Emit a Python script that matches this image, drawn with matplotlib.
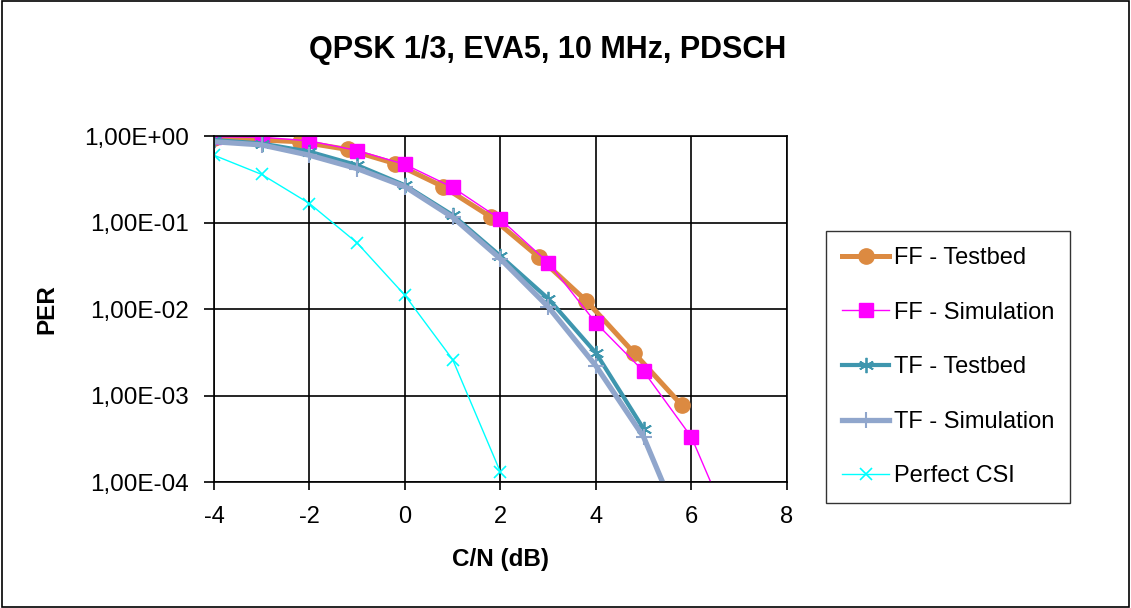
import numpy as np
import matplotlib.pyplot as plt
from matplotlib.ticker import FixedLocator, FuncFormatter, NullLocator

plt.rcParams['font.family'] = ['Liberation Sans', 'DejaVu Sans']

# FF - Testbed
ff_tb_x = [-4, -2.2, -1.2, -0.2, 0.8, 1.8, 2.8, 3.8, 4.8, 5.8]
ff_tb_y = [0.95, 0.86, 0.70, 0.48, 0.26, 0.116, 0.040, 0.0124, 0.0031, 0.00077]
# FF - Simulation
ff_sim_x = [-4, -3, -2, -1, 0, 1, 2, 3, 4, 5, 6, 7]
ff_sim_y = [0.98, 0.97, 0.88, 0.68, 0.47, 0.255, 0.109, 0.0345, 0.0069, 0.0019, 0.00033, 0.000017]
# TF - Testbed
tf_tb_x = [-4, -3, -2, -1, 0, 1, 2, 3, 4, 5]
tf_tb_y = [0.90, 0.82, 0.66, 0.46, 0.27, 0.122, 0.041, 0.0132, 0.0031, 0.00041]
# TF - Simulation
tf_sim_x = [-4, -3, -2, -1, 0, 1, 2, 3, 4, 5, 6]
tf_sim_y = [0.86, 0.79, 0.60, 0.42, 0.26, 0.115, 0.038, 0.0106, 0.0022, 0.00033, 0.000016]
# Perfect CSI
csi_x = [-4, -3, -2, -1, 0, 1, 2]
csi_y = [0.60, 0.36, 0.166, 0.058, 0.0144, 0.0026, 0.00013]

fig = plt.figure(figsize=(11.31, 6.08), dpi=100)
ax = fig.add_axes([0.1892, 0.2072, 0.5066, 0.569])

ax.plot(ff_tb_x, ff_tb_y, color='#DC8A41', lw=3.6, marker='o', ms=11, label='FF - Testbed')
ax.plot(ff_sim_x, ff_sim_y, color='#FF00FF', lw=1.0, marker='s', ms=9.5, label='FF - Simulation')
ax.plot(tf_tb_x, tf_tb_y, color='#3E96AE', lw=3.0, marker=(6, 2, 0), ms=11, mew=1.3,
        label='TF - Testbed')
ax.plot(tf_sim_x, tf_sim_y, color='#90A6CC', lw=3.8, marker='+', ms=11, mew=1.5,
        label='TF - Simulation')
ax.plot(csi_x, csi_y, color='#00FFFF', lw=1.0, marker='x', ms=8, mew=1.2, label='Perfect CSI')

ax.set_yscale('log')
ax.set_xlim(-4, 8)
ax.set_ylim(1e-4, 1)
ax.xaxis.set_major_locator(FixedLocator([-4, -2, 0, 2, 4, 6, 8]))
ax.xaxis.set_major_formatter(FuncFormatter(lambda v, pos: '%d' % v))
ax.yaxis.set_major_locator(FixedLocator([1e-4, 1e-3, 1e-2, 1e-1, 1e0]))
ax.yaxis.set_minor_locator(NullLocator())


def sci_comma(v, pos):
    e = int(round(np.log10(v)))
    return '1,00E%s%02d' % ('+' if e >= 0 else '-', abs(e))


ax.yaxis.set_major_formatter(FuncFormatter(sci_comma))
ax.grid(True, color='black', lw=1.2)
for s in ax.spines.values():
    s.set_color('black')
    s.set_linewidth(1.2)
ax.tick_params(axis='y', labelsize=17.5, length=7, width=1.2, color='black', pad=11)
ax.tick_params(axis='x', labelsize=17, length=6, width=1.2, color='black', pad=11)

ax.set_xlabel('C/N (dB)', fontsize=17.5, fontweight='bold', labelpad=15)
ax.set_ylabel('PER', fontsize=17.5, fontweight='bold')
ax.yaxis.set_label_coords(-0.272, 0.5)
fig.text(0.484, 0.918, 'QPSK 1/3, EVA5, 10 MHz, PDSCH', fontsize=22, fontweight='bold',
         ha='center', va='center')

leg = ax.legend(loc='upper left', bbox_to_anchor=(826 / 1131, 1 - 231 / 608),
                bbox_transform=fig.transFigure, frameon=True, fancybox=False,
                fontsize=17, handlelength=2.0, labelspacing=1.38, borderpad=0.68,
                handletextpad=0.2, borderaxespad=0)
leg.get_frame().set_edgecolor('black')
leg.get_frame().set_linewidth(1.0)

fig.patches.append(plt.Rectangle((0.002, 0.002), 0.996, 0.996, transform=fig.transFigure,
                                 fill=False, edgecolor='black', lw=1.2))

fig.savefig('out.png', dpi=100)
